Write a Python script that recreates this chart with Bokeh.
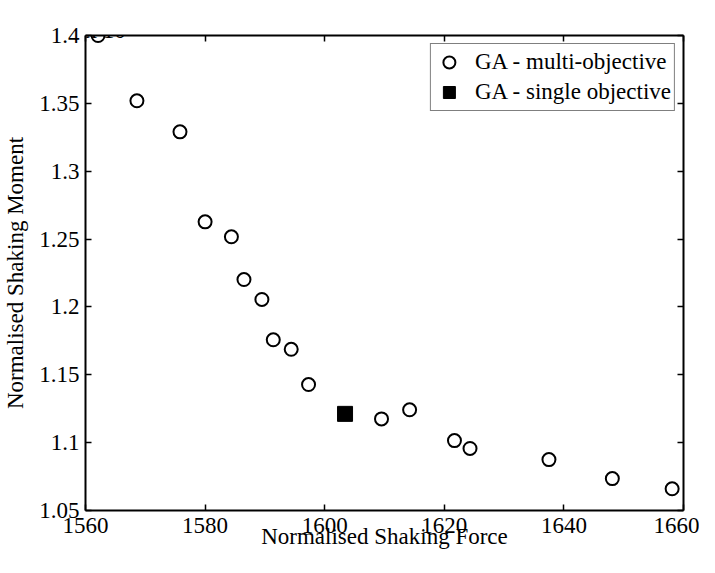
from bokeh.plotting import figure
from bokeh.models import Range1d, LinearAxis, FixedTicker, Label, Legend, LegendItem
from bokeh.embed import file_html
from bokeh.resources import INLINE

# ---- data (y values in real units; axis shows them as x 10^4) ----
multi_force = [1562.1, 1568.6, 1575.8, 1580.0, 1584.4, 1586.5, 1589.5, 1591.4, 1594.4,
               1597.3, 1609.5, 1614.2, 1621.7, 1624.3, 1637.5, 1648.1, 1658.1]
multi_moment = [14000, 13519, 13290, 12627, 12517, 12202, 12055, 11758, 11688,
                11428, 11175, 11242, 11015, 10957, 10875, 10735, 10660]
single_force = [1603.4]
single_moment = [11212]

x_ticks = [1560, 1580, 1600, 1620, 1640, 1660]
y_ticks = [10500, 11000, 11500, 12000, 12500, 13000, 13500, 14000]
y_tick_labels = ["1.05", "1.1", "1.15", "1.2", "1.25", "1.3", "1.35", "1.4"]
series_names = ["GA - multi-objective", "GA - single objective"]
x_title = "Normalised Shaking Force"
y_title = "Normalised Shaking Moment"

FONT = "Liberation Serif"
FS = "23px"

p = figure(width=699, height=557, output_backend="svg", toolbar_location=None,
           x_range=Range1d(1560, 1660), y_range=Range1d(10500, 14000),
           x_axis_location=None, y_axis_location=None,
           min_border_left=80, min_border_right=16, min_border_top=35, min_border_bottom=47)
p.xgrid.visible = False
p.ygrid.visible = False
p.outline_line_color = None
p.background_fill_color = "white"
p.border_fill_color = "white"


def style_axis(ax, ticks, show_labels):
    ax.ticker = FixedTicker(ticks=ticks)
    ax.axis_line_color = "black"
    ax.axis_line_width = 2
    ax.major_tick_in = 6
    ax.major_tick_out = 0
    ax.major_tick_line_width = 1.5
    ax.major_tick_line_color = "black"
    ax.minor_tick_in = 0
    ax.minor_tick_out = 0
    ax.minor_tick_line_color = None
    ax.major_label_text_font = FONT
    ax.major_label_text_color = "black"
    if show_labels:
        ax.major_label_text_font_size = FS
    else:
        ax.major_label_text_font_size = "1px"
        ax.major_label_text_alpha = 0
        ax.major_label_standoff = 0
    ax.axis_label_text_font = FONT
    ax.axis_label_text_font_size = FS
    ax.axis_label_text_font_style = "normal"
    ax.axis_label_text_color = "black"


xb = LinearAxis(axis_label=x_title)
style_axis(xb, x_ticks, True)
xb.major_label_standoff = 7
xb.axis_label_standoff = -12
xt = LinearAxis()
style_axis(xt, x_ticks, False)
yl = LinearAxis(axis_label=y_title)
style_axis(yl, y_ticks, True)
yl.major_label_overrides = {t: s for t, s in zip(y_ticks, y_tick_labels)}
yl.major_label_standoff = 6
yl.axis_label_standoff = 8
yr = LinearAxis()
style_axis(yr, y_ticks, False)

p.add_layout(xb, "below")
p.add_layout(xt, "above")
p.add_layout(yl, "left")
p.add_layout(yr, "right")

r_multi = p.scatter(multi_force, multi_moment, marker="circle", size=13,
                    fill_color=None, line_color="black", line_width=2)
r_single = p.scatter(single_force, single_moment, marker="square", size=15,
                     fill_color="black", line_color="black", line_width=1)

legend = Legend(items=[LegendItem(label=series_names[0], renderers=[r_multi]),
                       LegendItem(label=series_names[1], renderers=[r_single])],
                location="top_right", margin=8, padding=3, spacing=0,
                glyph_width=30, glyph_height=30, label_standoff=11,
                label_text_font=FONT, label_text_font_size=FS, label_text_color="black",
                border_line_color="black", border_line_width=1,
                background_fill_color="white", background_fill_alpha=1)
p.add_layout(legend)

p.add_layout(Label(x=1560, y=14000, x_offset=0, y_offset=5, text="x 10",
                   text_font=FONT, text_font_size=FS, text_color="black",
                   text_baseline="alphabetic", text_align="left"))
p.add_layout(Label(x=1560, y=14000, x_offset=41, y_offset=16, text="4",
                   text_font=FONT, text_font_size="15px", text_color="black",
                   text_baseline="alphabetic", text_align="left"))

open("out.html", "w").write(file_html(p, INLINE))
